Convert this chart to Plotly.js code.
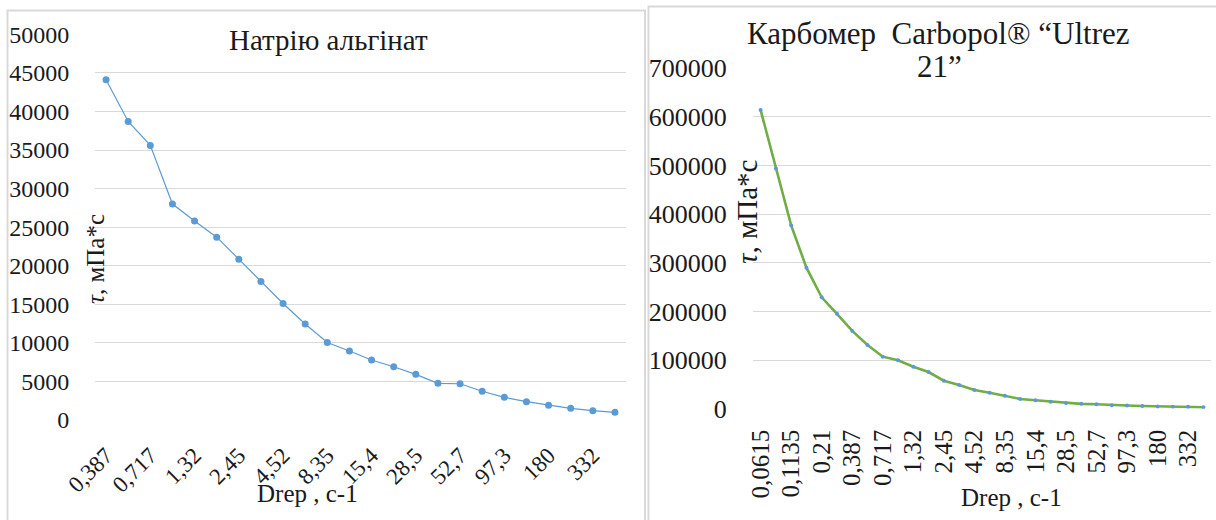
<!DOCTYPE html>
<html>
<head>
<meta charset="utf-8">
<script src="https://cdn.plot.ly/plotly-3.0.1.min.js"></script>
<style>
html,body{margin:0;padding:0;background:#fff;}
#chart{width:1216px;height:520px;}
</style>
</head>
<body>
<div id="chart"></div>
<script>
// Left chart: Натрію альгінат
const shearLeft = ["0,387","0,527","0,717","0,976","1,32","1,80","2,45","3,33","4,52","6,15","8,35","11,4","15,4","20,9","28,5","38,8","52,7","71,7","97,3","132","180","245","332","452"];
const tauLeft = [44100,38700,35600,28000,25800,23700,20850,17950,15100,12450,10050,8950,7780,6900,5920,4750,4700,3720,2940,2380,1900,1510,1210,1000];

// Right chart: Карбомер Carbopol® “Ultrez 21”
const shearRight = ["0,0615","0,0835","0,1135","0,155","0,21","0,285","0,387","0,527","0,717","0,976","1,32","1,80","2,45","3,33","4,52","6,15","8,35","11,4","15,4","20,9","28,5","38,8","52,7","71,7","97,3","132","180","245","332","452"];
const tauRight = [614000,494000,377000,290000,229000,195000,160000,131000,107000,99500,86400,75400,57500,48700,38400,32900,26700,20000,17300,14400,11700,10000,9000,7000,6500,5500,4500,4200,3800,3000];

const titleLeft = "Натрію альгінат";
const titleRight1 = "Карбомер&nbsp;&nbsp;Carbopol® “Ultrez";
const titleRight2 = "21”";
const yTitle = "<i>τ</i>, мПа*с";
const xTitle = "Drep , с-1";

const W = 1216, H = 520;
const px = x => x / W;
const py = y => 1 - y / H;

const font = "Liberation Serif";
const txt = "#1a1a1a";
const grid = "#d9d9d9";

const everyOther = arr => arr.filter((_, i) => i % 2 === 0);

const traces = [
  {
    x: shearLeft, y: tauLeft, type: "scatter", mode: "lines+markers",
    xaxis: "x", yaxis: "y",
    line: {color: "#5b9bd5", width: 1.2},
    marker: {color: "#5b9bd5", size: 7},
    hoverinfo: "x+y"
  },
  {
    x: shearRight, y: tauRight, type: "scatter", mode: "lines+markers",
    xaxis: "x2", yaxis: "y2",
    line: {color: "#70ad47", width: 2.6},
    marker: {color: "#5b9bd5", size: 4},
    hoverinfo: "x+y"
  }
];

const layout = {
  width: W, height: H,
  margin: {l: 0, r: 0, t: 0, b: 0},
  paper_bgcolor: "#fff", plot_bgcolor: "rgba(0,0,0,0)",
  showlegend: false,
  font: {family: font, color: txt},
  xaxis: {
    domain: [px(95), px(626)], anchor: "y",
    type: "category", categoryorder: "array", categoryarray: shearLeft,
    range: [-0.5, shearLeft.length - 0.5],
    tickmode: "array", tickvals: everyOther(shearLeft), ticktext: everyOther(shearLeft),
    tickangle: -45, tickfont: {size: 23, family: font, color: txt},
    showgrid: false, zeroline: false, showline: false,
    ticks: "outside", ticklen: 12, tickcolor: "rgba(0,0,0,0)",
    fixedrange: true
  },
  yaxis: {
    domain: [py(420), py(34.3)], anchor: "x",
    range: [0, 50000], tickmode: "linear", tick0: 0, dtick: 5000,
    tickfont: {size: 24, family: font, color: txt},
    showgrid: true, gridcolor: grid, gridwidth: 1,
    zeroline: false, showline: false,
    ticks: "outside", ticklen: 20, tickcolor: "rgba(0,0,0,0)",
    tickformat: "d",
    fixedrange: true
  },
  xaxis2: {
    domain: [px(753), px(1211)], anchor: "y2",
    type: "category", categoryorder: "array", categoryarray: shearRight,
    range: [-0.5, shearRight.length - 0.5],
    tickmode: "array", tickvals: everyOther(shearRight), ticktext: everyOther(shearRight),
    tickangle: -90, tickfont: {size: 25, family: font, color: txt},
    showgrid: false, zeroline: false, showline: false,
    ticks: "outside", ticklen: 10, tickcolor: "rgba(0,0,0,0)",
    fixedrange: true
  },
  yaxis2: {
    domain: [py(408.7), py(68.3)], anchor: "x2",
    range: [0, 700000], tickmode: "linear", tick0: 0, dtick: 100000,
    tickfont: {size: 26, family: font, color: txt},
    showgrid: true, gridcolor: grid, gridwidth: 1,
    zeroline: false, showline: false,
    ticks: "outside", ticklen: 20, tickcolor: "rgba(0,0,0,0)",
    tickformat: "d",
    fixedrange: true
  },
  shapes: [
    {type: "rect", xref: "paper", yref: "paper", x0: px(7.5), x1: px(645), y0: py(530), y1: py(10.5),
     line: {color: "#d9d9d9", width: 2}, fillcolor: "rgba(0,0,0,0)", layer: "below"},
    {type: "rect", xref: "paper", yref: "paper", x0: px(648.5), x1: px(1230), y0: py(530), y1: py(6.5),
     line: {color: "#d9d9d9", width: 2}, fillcolor: "rgba(0,0,0,0)", layer: "below"}
  ],
  annotations: [
    {text: titleLeft, xref: "paper", yref: "paper", x: px(329), y: py(40), xanchor: "center", yanchor: "middle",
     showarrow: false, font: {size: 29, family: font, color: txt}},
    {text: titleRight1, xref: "paper", yref: "paper", x: px(938), y: py(33), xanchor: "center", yanchor: "middle",
     showarrow: false, font: {size: 31, family: font, color: txt}},
    {text: titleRight2, xref: "paper", yref: "paper", x: px(939), y: py(66), xanchor: "center", yanchor: "middle",
     showarrow: false, font: {size: 31, family: font, color: txt}},
    {text: yTitle, xref: "paper", yref: "paper", x: px(95), y: py(259), xanchor: "center", yanchor: "middle",
     textangle: -90, showarrow: false, font: {size: 25, family: font, color: txt}},
    {text: yTitle, xref: "paper", yref: "paper", x: px(747), y: py(212), xanchor: "center", yanchor: "middle",
     textangle: -90, showarrow: false, font: {size: 29, family: font, color: txt}},
    {text: xTitle, xref: "paper", yref: "paper", x: px(307), y: py(493), xanchor: "center", yanchor: "middle",
     showarrow: false, font: {size: 25, family: font, color: txt}},
    {text: xTitle, xref: "paper", yref: "paper", x: px(1011), y: py(497), xanchor: "center", yanchor: "middle",
     showarrow: false, font: {size: 25, family: font, color: txt}}
  ]
};

Plotly.newPlot("chart", traces, layout, {displayModeBar: false, staticPlot: true});
</script>
</body>
</html>
